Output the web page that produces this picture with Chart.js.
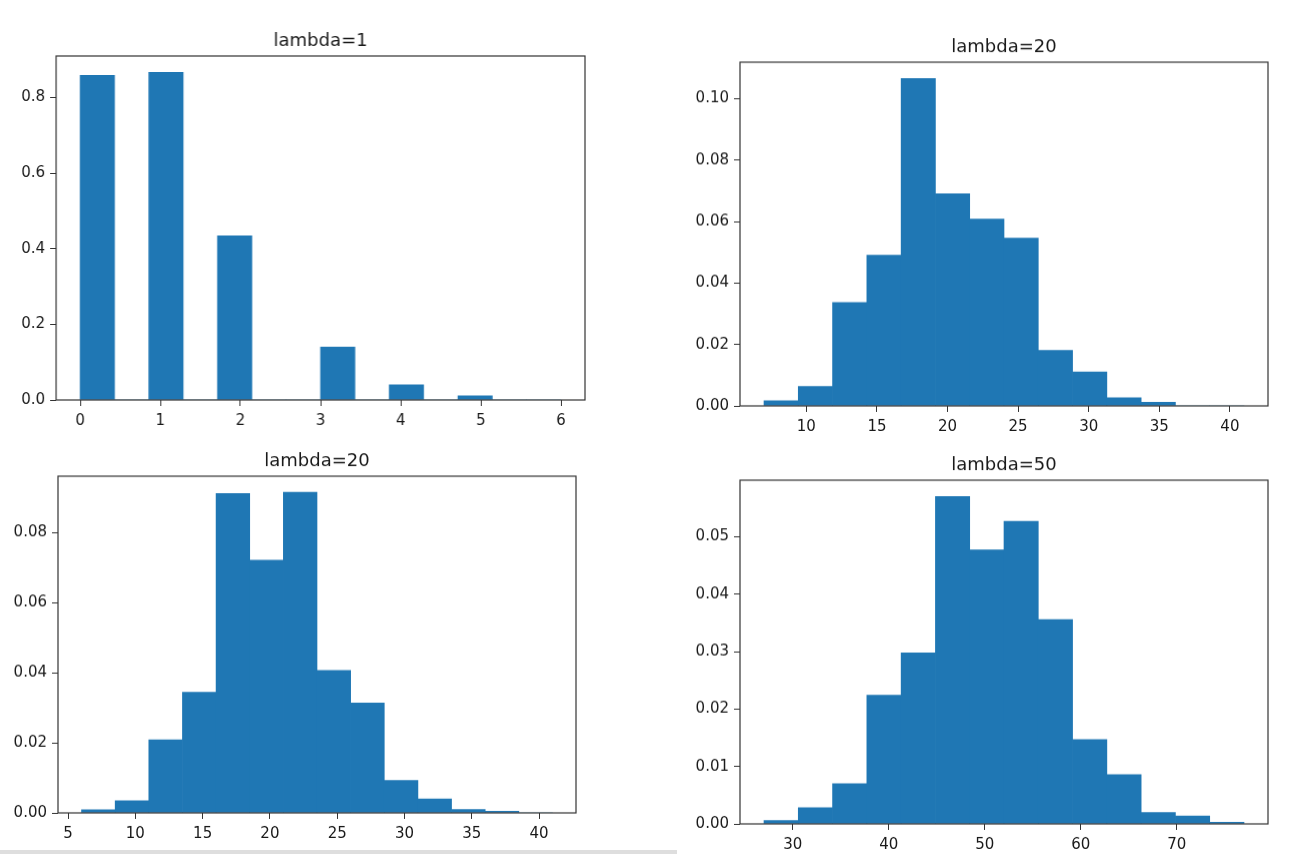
<!DOCTYPE html>
<html lang="en">
  <head>
    <meta charset="UTF-8" />
    <title>Poisson histograms</title>
    <script src="https://cdn.jsdelivr.net/npm/chart.js"></script>
    <style>
      body { margin: 0; background: #fff; width: 1290px; height: 854px; overflow: hidden; position: relative; }
      canvas { position: absolute; }
      #strip { position: absolute; left: 0; top: 850px; width: 677px; height: 4px; background: #dedede; }
    </style>
  </head>
  <body>
    <div id="strip"></div>

    <script>
      // histogram data (density=True, 14 bins)
      const lam1Range = [0, 6];
      const lam1Heights = [0.858, 0, 0.866, 0, 0.434, 0, 0, 0.140, 0, 0.040, 0, 0.011, 0, 0];
      const lam1XTicks = [0, 1, 2, 3, 4, 5, 6];
      const lam1YTicks = ["0.0", "0.2", "0.4", "0.6", "0.8"];

      const lam20aRange = [7, 41];
      const lam20aHeights = [0.0017, 0.0063, 0.0337, 0.0491, 0.1066, 0.0691, 0.0608, 0.0546, 0.0181, 0.0111, 0.0027, 0.0012, 0, 0];
      const lam20aXTicks = [10, 15, 20, 25, 30, 35, 40];
      const lam20aYTicks = ["0.00", "0.02", "0.04", "0.06", "0.08", "0.10"];

      const lam20bRange = [6, 41];
      const lam20bHeights = [0.0009, 0.0035, 0.0209, 0.0345, 0.0912, 0.0722, 0.0916, 0.0407, 0.0314, 0.0093, 0.0040, 0.0010, 0.0005, 0];
      const lam20bXTicks = [5, 10, 15, 20, 25, 30, 35, 40];
      const lam20bYTicks = ["0.00", "0.02", "0.04", "0.06", "0.08"];

      const lam50Range = [27, 77];
      const lam50Heights = [0.0006, 0.0028, 0.0070, 0.0224, 0.0298, 0.0570, 0.0477, 0.0527, 0.0356, 0.0147, 0.0086, 0.0020, 0.0014, 0.0003];
      const lam50XTicks = [30, 40, 50, 60, 70];
      const lam50YTicks = ["0.00", "0.01", "0.02", "0.03", "0.04", "0.05"];

      const C0 = "#1f77b4";
      const FONT = "DejaVu Sans";

      // draws the four spines like matplotlib
      const framePlugin = {
        id: "frame",
        afterDatasetsDraw(chart) {
          const { ctx, chartArea: a } = chart;
          ctx.save();
          ctx.strokeStyle = "#333";
          ctx.lineWidth = 1.2;
          ctx.strokeRect(a.left, a.top, a.right - a.left, a.bottom - a.top);
          ctx.restore();
        },
      };

      function histChart(frame, title, range, heights, xTicks, yLabels) {
        const Y_W = 56, TITLE_H = 56, X_H = 40, PAD_R = 20;
        const canvas = document.createElement("canvas");
        const w = frame.R - frame.L + Y_W + PAD_R;
        const h = frame.B - frame.T + TITLE_H + X_H;
        canvas.width = w;
        canvas.height = h;
        canvas.style.left = frame.L - Y_W + "px";
        canvas.style.top = frame.T - TITLE_H + "px";
        canvas.style.width = w + "px";
        canvas.style.height = h + "px";
        document.body.appendChild(canvas);

        const [lo, hi] = range;
        const span = hi - lo;
        const bw = span / heights.length;
        const points = heights.map((v, i) => ({ x: lo + (i + 0.5) * bw, y: v }));
        const ymax = Math.max(...heights) * 1.05;
        const yVals = yLabels.map(Number);

        const tickGrid = { display: true, drawOnChartArea: false, drawTicks: true, tickLength: 6, color: "#333", lineWidth: 1, offset: false };
        const tickFont = { family: FONT, size: 15 };

        new Chart(canvas.getContext("2d"), {
          type: "bar",
          data: {
            datasets: [
              {
                data: points,
                backgroundColor: C0,
                borderWidth: 0,
                barPercentage: 1,
                categoryPercentage: 1,
              },
            ],
          },
          options: {
            responsive: false,
            animation: false,
            layout: { padding: { top: 0, right: PAD_R, bottom: 0, left: 0 } },
            plugins: {
              legend: { display: false },
              tooltip: { enabled: false },
              title: {
                display: true,
                text: title,
                fullSize: false,
                color: "#1a1a1a",
                font: { family: FONT, size: 18, weight: "normal", lineHeight: "22px" },
                padding: { top: 30, bottom: 4 },
              },
            },
            scales: {
              x: {
                type: "linear",
                min: lo - 0.05 * span,
                max: hi + 0.05 * span,
                offset: false,
                grid: tickGrid,
                border: { display: false },
                ticks: { font: tickFont, color: "#1a1a1a", padding: 6, autoSkip: false, maxRotation: 0, callback: (v) => String(v) },
                afterBuildTicks: (s) => { s.ticks = xTicks.map((v) => ({ value: v })); },
                afterFit: (s) => { s.height = X_H; },
              },
              y: {
                type: "linear",
                min: 0,
                max: ymax,
                grid: tickGrid,
                border: { display: false },
                ticks: { font: tickFont, color: "#1a1a1a", padding: 5, autoSkip: false, callback: (v, i) => yLabels[i] },
                afterBuildTicks: (s) => { s.ticks = yVals.map((v) => ({ value: v })); },
                afterFit: (s) => { s.width = Y_W; },
              },
            },
          },
          plugins: [framePlugin],
        });
      }

      histChart({ L: 56, T: 56, R: 584.5, B: 400 }, "lambda=1", lam1Range, lam1Heights, lam1XTicks, lam1YTicks);
      histChart({ L: 740, T: 62, R: 1268, B: 405.5 }, "lambda=20", lam20aRange, lam20aHeights, lam20aXTicks, lam20aYTicks);
      histChart({ L: 57.5, T: 476, R: 575.5, B: 812.5 }, "lambda=20", lam20bRange, lam20bHeights, lam20bXTicks, lam20bYTicks);
      histChart({ L: 740, T: 480, R: 1268, B: 823.5 }, "lambda=50", lam50Range, lam50Heights, lam50XTicks, lam50YTicks);
    </script>
  </body>
</html>
